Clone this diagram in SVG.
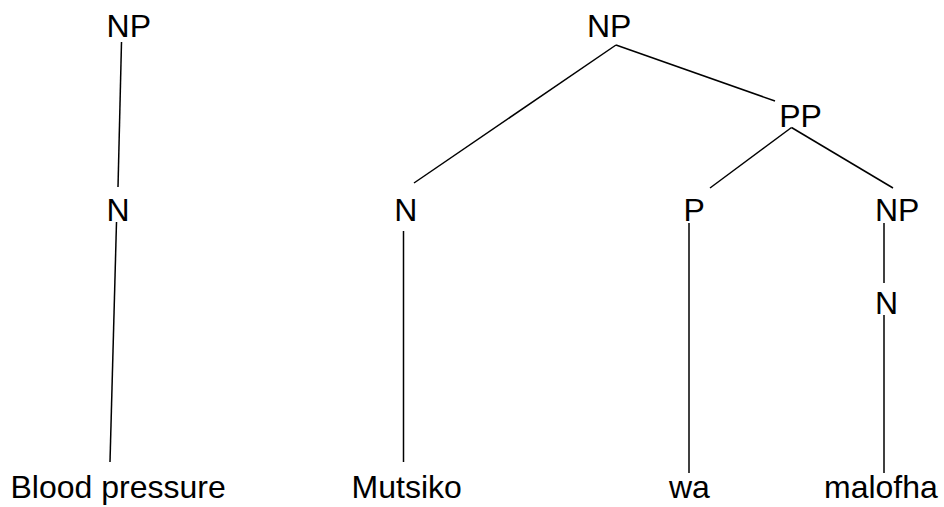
<svg xmlns="http://www.w3.org/2000/svg" width="944" height="507" viewBox="0 0 944 507">
<style>
text{font-family:"Liberation Sans",Arial,sans-serif;font-size:32px;fill:#000}
.e{stroke:#000;stroke-width:1.5;fill:none;stroke-linecap:butt}
</style>
<rect width="944" height="507" fill="#fff"/>
<g id="connectors">
<line class="e" x1="121.5" y1="42" x2="118" y2="187"/>
<line class="e" x1="116.5" y1="222" x2="110" y2="462"/>
<line class="e" x1="616" y1="45" x2="414" y2="183"/>
<line class="e" x1="616" y1="45" x2="775" y2="101"/>
<line class="e" x1="403.5" y1="231" x2="403.5" y2="462"/>
<line class="e" x1="791.5" y1="127.5" x2="710" y2="188"/>
<line class="e" x1="791.5" y1="127.5" x2="893" y2="188"/>
<line class="e" x1="689" y1="223" x2="689" y2="473"/>
<line class="e" x1="884" y1="223" x2="884" y2="283"/>
<line class="e" x1="884" y1="315" x2="884" y2="473"/>
</g>
<g id="np1"><text x="106.6" y="37">NP</text></g>
<g id="n1"><text x="106.6" y="221">N</text></g>
<g id="w1"><text x="10.5" y="498">Blood pressure</text></g>
<g id="np2"><text x="587" y="36.5">NP</text></g>
<g id="n2"><text x="394.3" y="221">N</text></g>
<g id="w2"><text x="351.6" y="498">Mutsiko</text></g>
<g id="pp"><text x="779.2" y="127">PP</text></g>
<g id="p"><text x="683.5" y="221">P</text></g>
<g id="w3"><text x="669" y="498">wa</text></g>
<g id="np3"><text x="875" y="221">NP</text></g>
<g id="n3"><text x="875" y="313.5">N</text></g>
<g id="w4"><text x="824" y="498">malofha</text></g>
</svg>
